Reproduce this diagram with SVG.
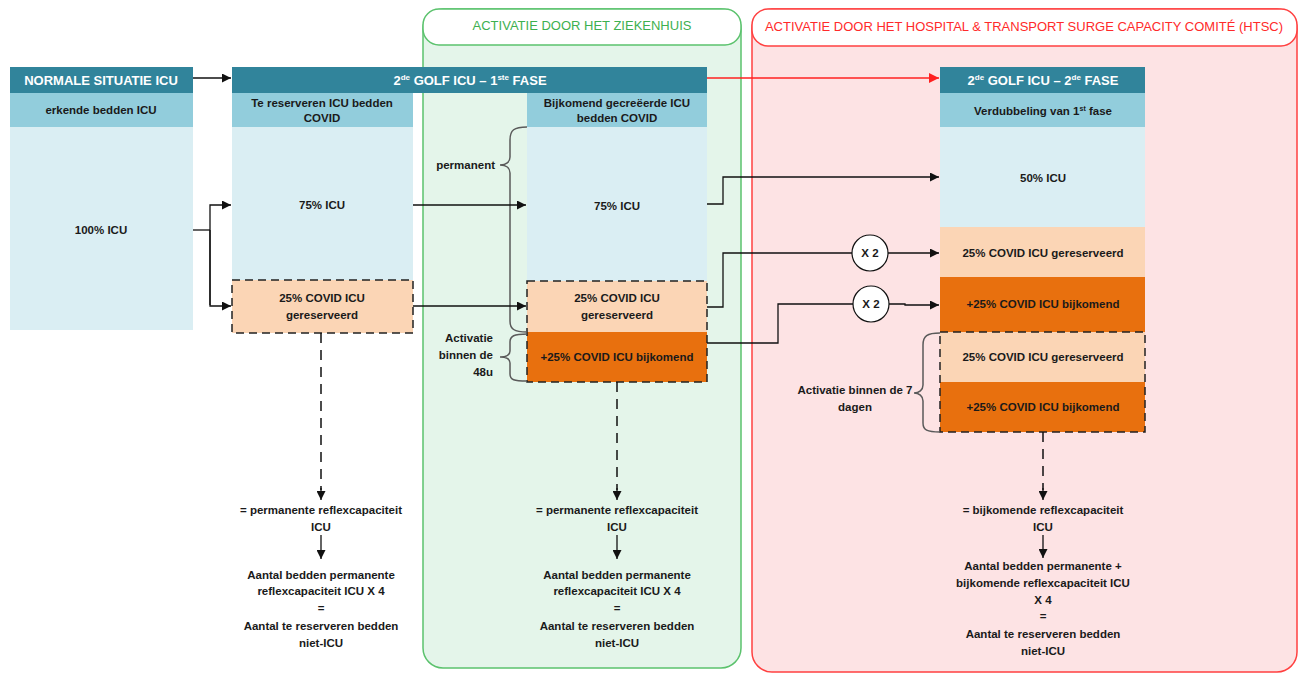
<svg xmlns="http://www.w3.org/2000/svg" width="1300" height="673" viewBox="0 0 1300 673">
<defs>
<style>
text{font-family:"Liberation Sans",Arial,sans-serif;font-weight:bold;font-size:11.5px;fill:#1a1a1a;text-anchor:middle}
.hd{fill:#31849B}.sub{fill:#92CDDC}.body{fill:#DAEEF3}.peach{fill:#FBD5B5}.orange{fill:#E8700E}
.ht{fill:#fff;font-size:13px}
.dash{fill:none;stroke:#222;stroke-width:1.5;stroke-dasharray:8,5}
.ln{fill:none;stroke:#111;stroke-width:1.3}
.vd{fill:none;stroke:#111;stroke-width:1.5;stroke-dasharray:10,7}
.brace{fill:none;stroke:#5a5a5a;stroke-width:1.5}
.circ{fill:#fff;stroke:#111;stroke-width:1.2}
</style>
<marker id="ah" viewBox="0 0 10 10" refX="10" refY="5" markerWidth="9" markerHeight="9" markerUnits="userSpaceOnUse" orient="auto"><path d="M0,0L10,5L0,10z" fill="#111"/></marker>
<marker id="ahr" viewBox="0 0 10 10" refX="10" refY="5" markerWidth="10" markerHeight="10" markerUnits="userSpaceOnUse" orient="auto"><path d="M0,0L10,5L0,10z" fill="#ff2020"/></marker>
</defs>
<rect width="1300" height="673" fill="#fff"/>

<g id="panel-ziekenhuis">
<rect x="423" y="9" width="318" height="659" rx="20" fill="#E4F5EA" stroke="#5BC26D" stroke-width="1.5"/>
<rect x="423" y="9" width="318" height="36" rx="16" fill="#fff" stroke="#5BC26D" stroke-width="1.5"/>
<text x="582" y="30" style="fill:#3DB04F;font-weight:normal;font-size:13px">ACTIVATIE DOOR HET ZIEKENHUIS</text>
</g>
<g id="panel-htsc">
<rect x="752" y="9" width="545" height="663" rx="20" fill="#FDE3E4" stroke="#FF4040" stroke-width="1.5"/>
<rect x="752" y="9" width="545" height="37" rx="16" fill="#fff" stroke="#FF4040" stroke-width="1.5"/>
<text x="1024" y="31" style="fill:#FF2A2A;font-weight:normal;font-size:13px">ACTIVATIE DOOR HET HOSPITAL &amp; TRANSPORT SURGE CAPACITY COMITÉ (HTSC)</text>
</g>

<g id="node-normaal">
<rect class="hd" x="10" y="67" width="183" height="26"/>
<text class="ht" x="101" y="85">NORMALE SITUATIE ICU</text>
<rect class="sub" x="10" y="93" width="183" height="34"/>
<text x="101" y="114">erkende bedden ICU</text>
<rect class="body" x="10" y="127" width="183" height="203"/>
<text x="101" y="234">100% ICU</text>
</g>

<g id="node-fase1-header">
<rect class="hd" x="232" y="67" width="475" height="26"/>
<text class="ht" x="470" y="85">2<tspan font-size="8" dy="-5">de</tspan><tspan dy="5"> GOLF ICU – 1</tspan><tspan font-size="8" dy="-5">ste</tspan><tspan dy="5"> FASE</tspan></text>
</g>

<g id="node-fase1-reserveren">
<rect class="sub" x="232" y="93" width="181" height="34"/>
<text x="322" y="107">Te reserveren ICU bedden</text>
<text x="322" y="122">COVID</text>
<rect class="body" x="232" y="127" width="181" height="153"/>
<text x="322" y="209">75% ICU</text>
<rect class="peach" x="232" y="280" width="181" height="53"/>
<rect class="dash" x="232" y="280" width="181" height="53"/>
<text x="322" y="302">25% COVID ICU</text>
<text x="322" y="319">gereserveerd</text>
</g>

<g id="node-fase1-bijkomend">
<rect class="sub" x="527" y="93" width="180" height="34"/>
<text x="617" y="107">Bijkomend gecreëerde ICU</text>
<text x="617" y="122">bedden COVID</text>
<rect class="body" x="527" y="127" width="180" height="154"/>
<text x="617" y="210">75% ICU</text>
<rect class="peach" x="527" y="281" width="180" height="51"/>
<text x="617" y="302">25% COVID ICU</text>
<text x="617" y="319">gereserveerd</text>
<rect class="orange" x="527" y="332" width="180" height="50"/>
<text x="617" y="361">+25% COVID ICU bijkomend</text>
<rect class="dash" x="527" y="281" width="180" height="101"/>
</g>

<g id="node-fase2">
<rect class="hd" x="940" y="67" width="205" height="26"/>
<text class="ht" x="1043" y="85">2<tspan font-size="8" dy="-5">de</tspan><tspan dy="5"> GOLF ICU – 2</tspan><tspan font-size="8" dy="-5">de</tspan><tspan dy="5"> FASE</tspan></text>
<rect class="sub" x="940" y="93" width="205" height="34"/>
<text x="1043" y="115">Verdubbeling van 1<tspan font-size="7" dy="-4">st</tspan><tspan dy="4"> fase</tspan></text>
<rect class="body" x="940" y="127" width="205" height="100"/>
<text x="1043" y="182">50% ICU</text>
<rect class="peach" x="940" y="227" width="205" height="50"/>
<text x="1043" y="257">25% COVID ICU gereserveerd</text>
<rect class="orange" x="940" y="277" width="205" height="55"/>
<text x="1043" y="308">+25% COVID ICU bijkomend</text>
<rect class="peach" x="940" y="332" width="205" height="50"/>
<text x="1043" y="361">25% COVID ICU gereserveerd</text>
<rect class="orange" x="940" y="382" width="205" height="50"/>
<text x="1043" y="411">+25% COVID ICU bijkomend</text>
<rect class="dash" x="940" y="332" width="205" height="100"/>
</g>

<g id="x2-a"><circle class="circ" cx="870" cy="253" r="18"/><text x="870" y="257">X 2</text></g>
<g id="x2-b"><circle class="circ" cx="871" cy="304" r="18"/><text x="871" y="308">X 2</text></g>

<g id="braces">
<path class="brace" d="M527,127 C514,127 510,130 510,140 L510,157 C510,162 506,165 500,165 C506,165 510,168 510,173 L510,321 C510,329 514,332 527,332"/>
<text x="495" y="169" style="text-anchor:end">permanent</text>
<path class="brace" d="M527,334 C514,334 510,336 510,342 L510,351 C510,355 506,357 500,357 C506,357 510,359 510,363 L510,374 C510,380 514,381 527,381"/>
<text x="493" y="342" style="text-anchor:end">Activatie</text>
<text x="493" y="359" style="text-anchor:end">binnen de</text>
<text x="493" y="376" style="text-anchor:end">48u</text>
<path class="brace" d="M940,333 C927,333 923,336 923,345 L923,385 C923,390 919,393 914,393 C919,393 923,396 923,401 L923,423 C923,430 927,432 940,432"/>
<text x="855" y="394">Activatie binnen de 7</text>
<text x="855" y="411">dagen</text>
</g>

<g id="connectors">
<path class="ln" d="M193,78 L231,78" marker-end="url(#ah)"/>
<path d="M707,78 L939,78" fill="none" stroke="#ff2020" stroke-width="1.3" marker-end="url(#ahr)"/>
<path class="ln" d="M193,230 L210,230"/>
<path class="ln" d="M210,305 L210,205 L231,205" marker-end="url(#ah)"/>
<path class="ln" d="M210,230 L210,306 L231,306" marker-end="url(#ah)"/>
<path class="ln" d="M413,205 L526,205" marker-end="url(#ah)"/>
<path class="ln" d="M413,306 L526,306" marker-end="url(#ah)"/>
<path class="ln" d="M707,204 L723,204 L723,177 L939,177" marker-end="url(#ah)"/>
<path class="ln" d="M707,307 L723,307 L723,253 L852,253"/>
<path class="ln" d="M888,253 L939,253" marker-end="url(#ah)"/>
<path class="ln" d="M707,343 L778,343 L778,304 L853,304"/>
<path class="ln" d="M889,304 L905,304 L905,305 L939,305" marker-end="url(#ah)"/>

<path class="vd" d="M321,333 L321,490"/>
<path class="ln" d="M321,488 L321,500" marker-end="url(#ah)"/>
<path class="ln" d="M321,535 L321,559" marker-end="url(#ah)"/>
<path class="vd" d="M617,382 L617,490"/>
<path class="ln" d="M617,488 L617,500" marker-end="url(#ah)"/>
<path class="ln" d="M617,535 L617,559" marker-end="url(#ah)"/>
<path class="vd" d="M1043,432 L1043,490"/>
<path class="ln" d="M1043,488 L1043,500" marker-end="url(#ah)"/>
<path class="ln" d="M1043,535 L1043,558" marker-end="url(#ah)"/>
</g>

<g id="text-col1">
<text x="321" y="514">= permanente reflexcapaciteit</text>
<text x="321" y="531">ICU</text>
<text x="321" y="579">Aantal bedden permanente</text>
<text x="321" y="595">reflexcapaciteit ICU X 4</text>
<text x="321" y="612">=</text>
<text x="321" y="630">Aantal te reserveren bedden</text>
<text x="321" y="647">niet-ICU</text>
</g>
<g id="text-col2">
<text x="617" y="514">= permanente reflexcapaciteit</text>
<text x="617" y="531">ICU</text>
<text x="617" y="579">Aantal bedden permanente</text>
<text x="617" y="595">reflexcapaciteit ICU X 4</text>
<text x="617" y="612">=</text>
<text x="617" y="630">Aantal te reserveren bedden</text>
<text x="617" y="647">niet-ICU</text>
</g>
<g id="text-col3">
<text x="1043" y="514">= bijkomende reflexcapaciteit</text>
<text x="1043" y="531">ICU</text>
<text x="1043" y="570">Aantal bedden permanente +</text>
<text x="1043" y="587">bijkomende reflexcapaciteit ICU</text>
<text x="1043" y="604">X 4</text>
<text x="1043" y="620">=</text>
<text x="1043" y="638">Aantal te reserveren bedden</text>
<text x="1043" y="655">niet-ICU</text>
</g>
</svg>
